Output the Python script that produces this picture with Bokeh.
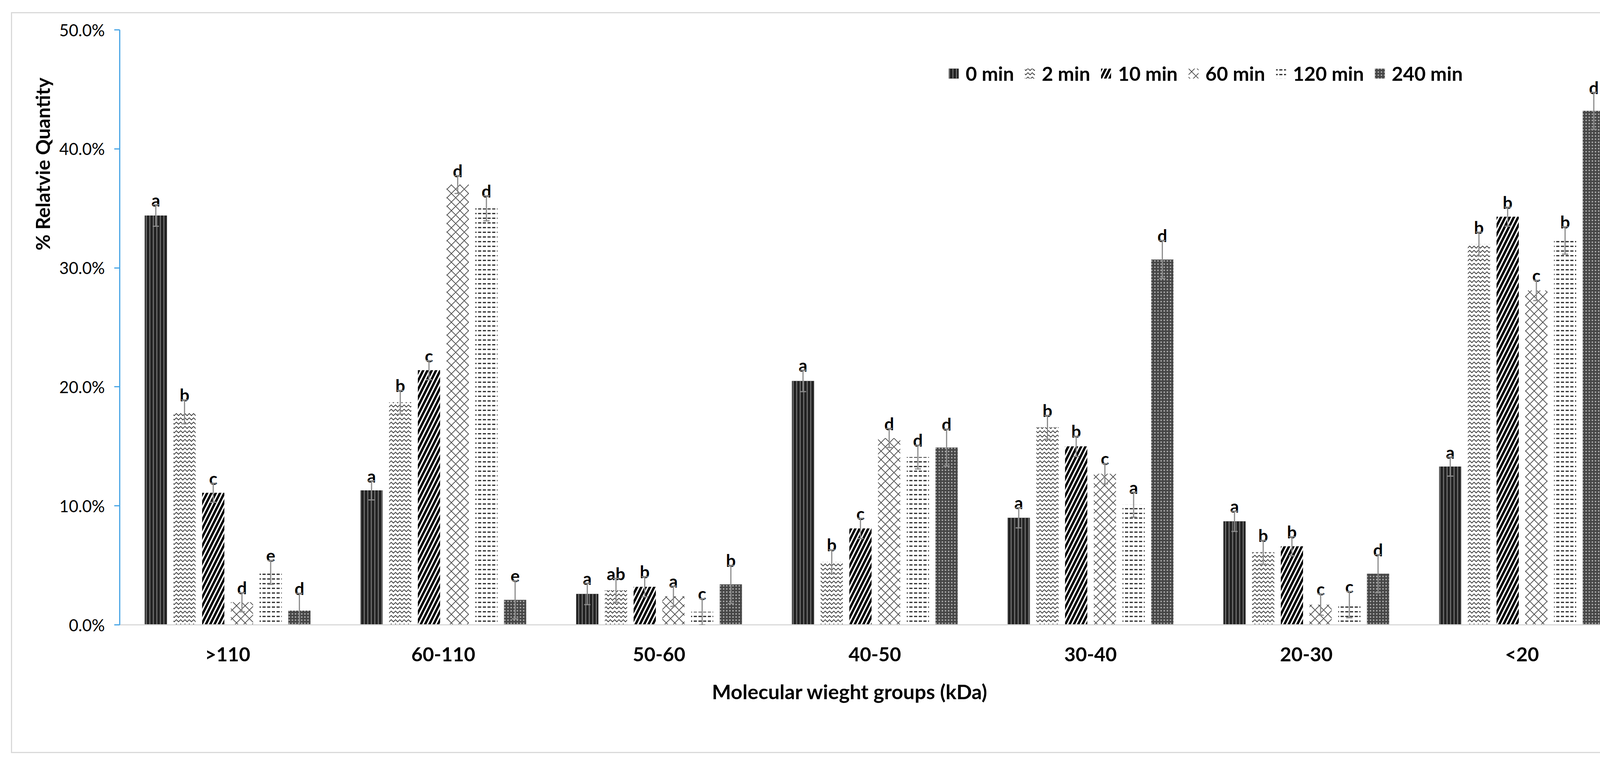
import math
from bokeh.plotting import figure
from bokeh.models import (FactorRange, Range1d, NumeralTickFormatter, FixedTicker,
                          Whisker, TeeHead, Title, Legend, LegendItem, ColumnDataSource,
                          InlineStyleSheet)
from bokeh.transform import dodge
from bokeh.core.properties import value
from bokeh.embed import file_html
from bokeh.resources import INLINE

# ---------------- data ----------------
groups = [">110", "60-110", "50-60", "40-50", "30-40", "20-30", "<20"]
series = ["0 min", "2 min", "10 min", "60 min", "120 min", "240 min"]

val_0 = [34.4, 11.3, 2.6, 20.5, 9.0, 8.7, 13.3]
val_2 = [17.9, 18.7, 2.9, 5.3, 16.6, 6.1, 32.0]
val_10 = [11.1, 21.4, 3.2, 8.1, 15.0, 6.6, 34.3]
val_60 = [1.9, 37.0, 2.4, 15.7, 12.7, 1.7, 28.1]
val_120 = [4.4, 35.0, 1.1, 14.1, 10.1, 1.7, 32.3]
val_240 = [1.2, 2.1, 3.4, 14.9, 30.7, 4.3, 43.2]

err_0 = [0.9, 0.8, 0.9, 0.9, 0.85, 0.85, 0.8]
err_2 = [1.0, 1.0, 1.0, 1.0, 1.0, 1.0, 1.0]
err_10 = [0.8, 0.8, 0.85, 0.85, 0.85, 0.8, 0.8]
err_60 = [0.8, 0.75, 0.85, 0.8, 0.85, 0.9, 0.85]
err_120 = [1.0, 1.05, 1.1, 1.0, 1.05, 1.1, 1.15]
err_240 = [1.45, 1.6, 1.6, 1.55, 1.6, 1.6, 1.55]

let_0 = ["a", "a", "a", "a", "a", "a", "a"]
let_2 = ["b", "b", "ab", "b", "b", "b", "b"]
let_10 = ["c", "c", "b", "c", "b", "b", "b"]
let_60 = ["d", "d", "a", "d", "c", "c", "c"]
let_120 = ["e", "d", "c", "d", "a", "c", "b"]
let_240 = ["d", "e", "b", "d", "d", "d", "d"]

y_ticks = [0.0, 0.1, 0.2, 0.3, 0.4, 0.5]

values = [val_0, val_2, val_10, val_60, val_120, val_240]
errors = [err_0, err_2, err_10, err_60, err_120, err_240]
letters = [let_0, let_2, let_10, let_60, let_120, let_240]

# ---------------- styles ----------------
styles = [
    dict(fill_color="#222222", hatch_pattern="vertical_line", hatch_color="#777777", hatch_scale=9, hatch_weight=2.5),
    dict(fill_color="white", hatch_pattern="horizontal_wave", hatch_color="#2e2e2e", hatch_scale=11, hatch_weight=1.8),
    dict(fill_color="white", hatch_pattern="right_diagonal_line", hatch_color="#000000", hatch_scale=22, hatch_weight=6),
    dict(fill_color="white", hatch_pattern="diagonal_cross", hatch_color="#444444", hatch_scale=22, hatch_weight=1.8),
    dict(fill_color="white", hatch_pattern="horizontal_dash", hatch_color="#222222", hatch_scale=12, hatch_weight=3),
    dict(fill_color="#474747", hatch_pattern="dot", hatch_color="#b0b0b0", hatch_scale=8, hatch_weight=2),
]
pitch = 0.1331
bar_w = 0.103
err_color = "#8c8c8c"
FONT = "Lato"

border_css = InlineStyleSheet(css="""
:host::after {
  content: "";
  position: absolute;
  left: 28px; top: 31px;
  width: 4191px; height: 1892px;
  border: 3px solid #d9d9d9;
  pointer-events: none;
  z-index: 100;
}
""")

p = figure(x_range=FactorRange(*groups), y_range=Range1d(0, 0.5),
           width=4272, height=1964, output_backend="svg", toolbar_location=None,
           min_border_left=306, min_border_right=100, min_border_top=76, min_border_bottom=364)
p.background_fill_color = "white"
p.border_fill_color = "white"
p.outline_line_color = None
p.xgrid.grid_line_color = None
p.ygrid.grid_line_color = None
p.stylesheets = [border_css]

items = []
for i, name in enumerate(series):
    off = (i - 2.5) * pitch
    src = ColumnDataSource(dict(
        group=groups,
        val=[v / 100 for v in values[i]],
        upper=[(v + e) / 100 for v, e in zip(values[i], errors[i])],
        lower=[(v - e) / 100 for v, e in zip(values[i], errors[i])],
        letter=letters[i],
    ))
    r = p.vbar(x=dodge("group", off, range=p.x_range), top="val", width=bar_w, bottom=0,
               source=src, line_color=None, **styles[i])
    items.append(LegendItem(label=name, renderers=[r]))
    w = Whisker(source=src, base=dodge("group", off, range=p.x_range), upper="upper", lower="lower",
                line_color=err_color, line_width=3,
                upper_head=TeeHead(size=16, line_color=err_color, line_width=3),
                lower_head=TeeHead(size=16, line_color=err_color, line_width=3))
    w.level = "overlay"
    p.add_layout(w)
    p.text(x=dodge("group", off, range=p.x_range), y="upper", text="letter", source=src,
           text_font=value(FONT), text_font_style="bold", text_font_size="44px",
           text_color="black", text_align="center", text_baseline="alphabetic", y_offset=-13)

# axes
yax = p.yaxis[0]
yax.ticker = FixedTicker(ticks=y_ticks)
yax.formatter = NumeralTickFormatter(format="0.0%")
yax.axis_line_color = "#4aa6e6"
yax.axis_line_width = 3
yax.major_tick_line_color = "#4aa6e6"
yax.major_tick_line_width = 3
yax.major_tick_out = 14
yax.major_tick_in = 0
yax.minor_tick_line_color = None
yax.major_label_standoff = 24
yax.major_label_text_font = FONT
yax.major_label_text_font_size = "42px"
yax.major_label_text_color = "black"

xax = p.xaxis[0]
xax.axis_line_color = "#d9d9d9"
xax.axis_line_width = 3
xax.major_tick_line_color = None
xax.minor_tick_line_color = None
xax.major_label_standoff = 38
xax.major_label_text_font = FONT
xax.major_label_text_font_style = "bold"
xax.major_label_text_font_size = "50px"
xax.major_label_text_color = "black"

# titles
p.add_layout(Title(text="Molecular wieght groups (kDa)", align="left", offset=1516,
                   standoff=60, text_font=FONT, text_font_style="bold",
                   text_font_size="52px", text_color="black"), "below")
p.add_layout(Title(text="% Relatvie Quantity", align="left", offset=959, standoff=20,
                   text_font=FONT, text_font_style="bold",
                   text_font_size="50px", text_color="black"), "left")

legend = Legend(items=items, orientation="horizontal", location=(2119, 1382),
                label_text_font=FONT, label_text_font_style="bold", label_text_font_size="50px",
                label_text_color="black", glyph_width=32, glyph_height=32,
                label_standoff=15, spacing=24, padding=0, margin=0,
                border_line_color=None, background_fill_alpha=0)
p.add_layout(legend)

open("out.html", "w").write(file_html(p, INLINE))
